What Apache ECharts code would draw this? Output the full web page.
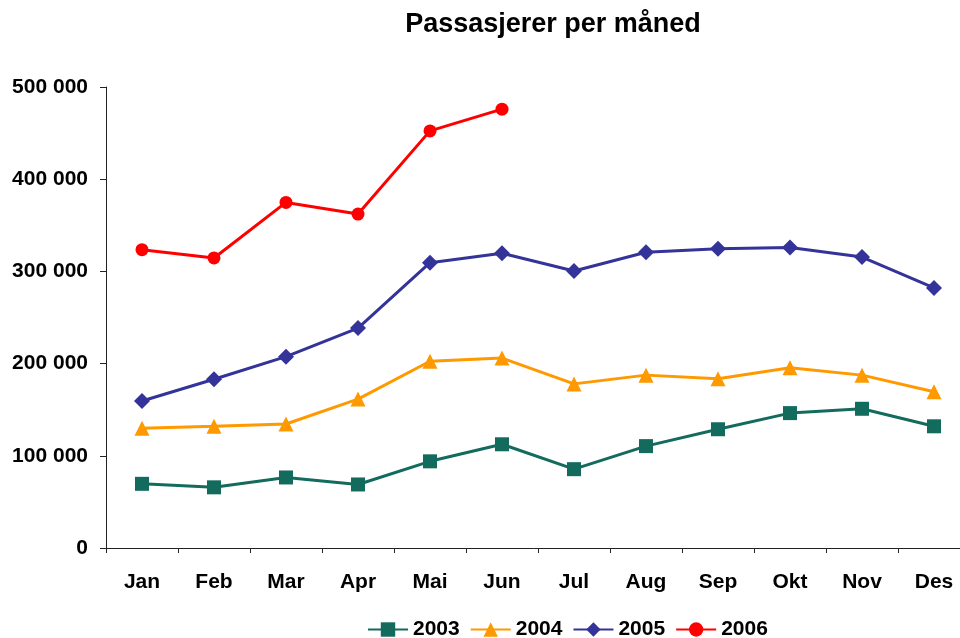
<!DOCTYPE html>
<html>
<head>
<meta charset="utf-8">
<script src="https://cdn.jsdelivr.net/npm/echarts@6/dist/echarts.min.js"></script>
<style>
  html, body { margin: 0; padding: 0; background: #ffffff; }
  #chart { width: 960px; height: 638px; }
</style>
</head>
<body>
<div id="chart"></div>
<script>
// Monthly passenger counts per year
const months = ['Jan', 'Feb', 'Mar', 'Apr', 'Mai', 'Jun', 'Jul', 'Aug', 'Sep', 'Okt', 'Nov', 'Des'];
const y2003 = [69600, 65800, 76500, 68900, 94000, 112500, 85500, 110500, 128800, 146300, 151000, 132000];
const y2004 = [130000, 132000, 134500, 161500, 202500, 206000, 178000, 187500, 183500, 195500, 187500, 169500];
const y2005 = [159500, 183000, 207500, 238500, 309500, 319600, 300500, 320700, 324500, 326000, 315500, 282000];
const y2006 = [323600, 314600, 374800, 362200, 452400, 476000];
const yTicks = [0, 100000, 200000, 300000, 400000, 500000];

const font = 'Liberation Sans, Arial, sans-serif';

function fmt(v) {
  return String(v).replace(/\B(?=(\d{3})+(?!\d))/g, ' ');
}

function lineSeries(name, data, color, symbol, size) {
  return {
    name: name,
    type: 'line',
    data: data,
    symbol: symbol,
    symbolSize: size,
    showAllSymbol: true,
    lineStyle: { color: color, width: 3 },
    itemStyle: { color: color },
    emphasis: { disabled: true },
    animation: false
  };
}

const chart = echarts.init(document.getElementById('chart'), null, { renderer: 'canvas' });
chart.setOption({
  backgroundColor: '#ffffff',
  animation: false,
  title: {
    text: 'Passasjerer per måned',
    left: 548,
    textAlign: 'center',
    top: 6,
    textStyle: { fontFamily: font, fontSize: 27, fontWeight: 'bold', color: '#000000' }
  },
  legend: {
    top: 614,
    left: 362,
    itemWidth: 40,
    itemHeight: 18,
    itemGap: 10,
    textStyle: { fontFamily: font, fontSize: 21, fontWeight: 'bold', color: '#000000' },
    data: ['2003', '2004', '2005', '2006']
  },
  grid: { left: 106, top: 87, width: 864, height: 461, outerBoundsMode: 'none', containLabel: false },
  xAxis: {
    type: 'category',
    data: months,
    boundaryGap: true,
    axisLine: { lineStyle: { color: '#222222', width: 1 } },
    axisTick: { show: true, length: 5, lineStyle: { color: '#222222' } },
    axisLabel: { margin: 24, fontFamily: font, fontSize: 21, fontWeight: 'bold', color: '#000000' },
    splitLine: { show: false }
  },
  yAxis: {
    type: 'value',
    min: yTicks[0],
    max: yTicks[yTicks.length - 1],
    interval: 100000,
    axisLine: { show: true, lineStyle: { color: '#222222', width: 1 } },
    axisTick: { show: true, length: 6, lineStyle: { color: '#222222' } },
    axisLabel: { margin: 18, fontFamily: font, fontSize: 21, fontWeight: 'bold', color: '#000000', formatter: fmt },
    splitLine: { show: false }
  },
  series: [
    lineSeries('2003', y2003, '#136B5D', 'rect', 14),
    lineSeries('2004', y2004, '#FF9900', 'triangle', 15),
    lineSeries('2005', y2005, '#333399', 'diamond', 16),
    lineSeries('2006', y2006, '#FF0000', 'circle', 13)
  ]
});
</script>
</body>
</html>
